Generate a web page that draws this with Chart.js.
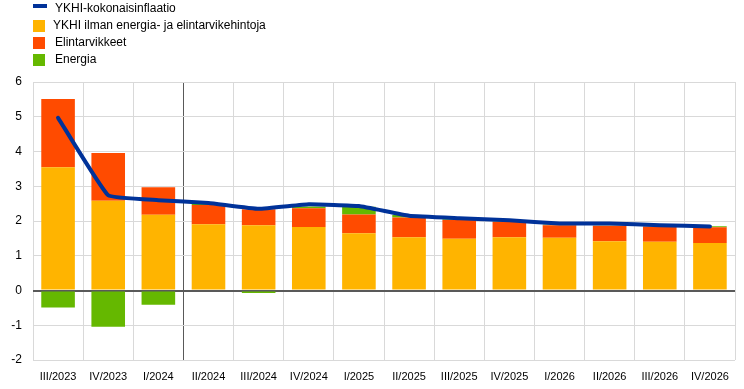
<!DOCTYPE html>
<html><head><meta charset="utf-8">
<script src="https://cdn.jsdelivr.net/npm/chart.js@4"></script>
<style>
html,body{margin:0;padding:0;background:#fff;}
#wrap{position:relative;width:744px;height:389px;}
#legend{position:absolute;left:33px;top:0;font-family:"Liberation Sans",Arial,sans-serif;font-size:12px;color:#000;}
.li{position:absolute;left:0;white-space:nowrap;height:17px;line-height:17px;}
.sw{position:absolute;left:0;}
.tx{position:absolute;}
</style></head>
<body><div id="wrap"><canvas id="c" width="744" height="389"></canvas><div id="legend"></div></div>
<script>
const categories = ["III/2023","IV/2023","I/2024","II/2024","III/2024","IV/2024","I/2025","II/2025","III/2025","IV/2025","I/2026","II/2026","III/2026","IV/2026"];
const headline = [4.97,2.74,2.60,2.52,2.35,2.48,2.43,2.15,2.08,2.02,1.93,1.93,1.88,1.84];
const core = [3.55,2.58,2.18,1.91,1.88,1.83,1.65,1.53,1.49,1.53,1.52,1.42,1.40,1.37];
const food = [1.96,1.38,0.79,0.55,0.46,0.54,0.54,0.57,0.54,0.45,0.36,0.44,0.44,0.45];
const energy = [-0.49,-1.04,-0.41,0.03,-0.07,0.05,0.22,0.07,0.02,0.01,0.02,0.01,0.01,0.03];
const yTicks = [6,5,4,3,2,1,0,-1,-2];
const labels = {headline:"YKHI-kokonaisinflaatio", core:"YKHI ilman energia- ja elintarvikehintoja", food:"Elintarvikkeet", energy:"Energia"};
const colors = {headline:"#003299", core:"#FFB400", food:"#FF4B00", energy:"#65B800"};

// HTML legend
const leg = document.getElementById('legend');
const items = [
  {k:"headline", top:0, line:true, tx:22},
  {k:"core", top:17, tx:20},
  {k:"food", top:34, tx:22},
  {k:"energy", top:51, tx:22}
];
items.forEach(it=>{
  const d=document.createElement('div'); d.className='li'; d.style.top=it.top+'px';
  const s=document.createElement('div'); s.className='sw';
  if(it.line){s.style.cssText+='top:4px;width:14px;height:4px;background:'+colors[it.k];}
  else{s.style.cssText+='top:3px;width:12px;height:12px;background:'+colors[it.k];}
  const t=document.createElement('span'); t.className='tx'; t.style.left=it.tx+'px'; t.textContent=labels[it.k];
  d.appendChild(s); d.appendChild(t); leg.appendChild(d);
});

const font = {family:"'Liberation Sans', Arial, sans-serif", size:12};
new Chart(document.getElementById('c'), {
  data:{
    labels:categories,
    datasets:[
      {type:'line', label:labels.headline, data:headline, borderColor:colors.headline, borderWidth:4, pointRadius:0, tension:0.1, order:0, fill:false, borderCapStyle:'round'},
      {type:'bar', label:labels.core, data:core, backgroundColor:colors.core, stack:'s', order:1, categoryPercentage:1, barPercentage:0.67},
      {type:'bar', label:labels.food, data:food, backgroundColor:colors.food, stack:'s', order:1, categoryPercentage:1, barPercentage:0.67},
      {type:'bar', label:labels.energy, data:energy, backgroundColor:colors.energy, stack:'s', order:1, categoryPercentage:1, barPercentage:0.67}
    ]
  },
  options:{
    responsive:false, animation:false,
    layout:{padding:{top:82,right:9,left:0,bottom:0}},
    plugins:{legend:{display:false}, tooltip:{enabled:false}},
    scales:{
      x:{stacked:true, offset:true,
        grid:{offset:true, color:c=>c.index===3?'#595959':'#d9d9d9', lineWidth:1, drawTicks:false},
        border:{display:false},
        ticks:{font:{family:"'Liberation Sans', Arial, sans-serif", size:11}, color:'#000', maxRotation:0, autoSkip:false, padding:10},
        afterFit:s=>{s.height=29;}
      },
      y:{stacked:true, min:-2, max:6,
        afterBuildTicks:s=>{s.ticks=yTicks.map(v=>({value:v}));},
        grid:{color:c=>c.tick&&c.tick.value===0?'#595959':'#d9d9d9', lineWidth:c=>c.tick&&c.tick.value===0?2:1, drawTicks:false},
        border:{display:false},
        ticks:{font:font, color:'#000', padding:11},
        afterFit:s=>{s.width=33;}
      }
    }
  }
});
</script></body></html>
